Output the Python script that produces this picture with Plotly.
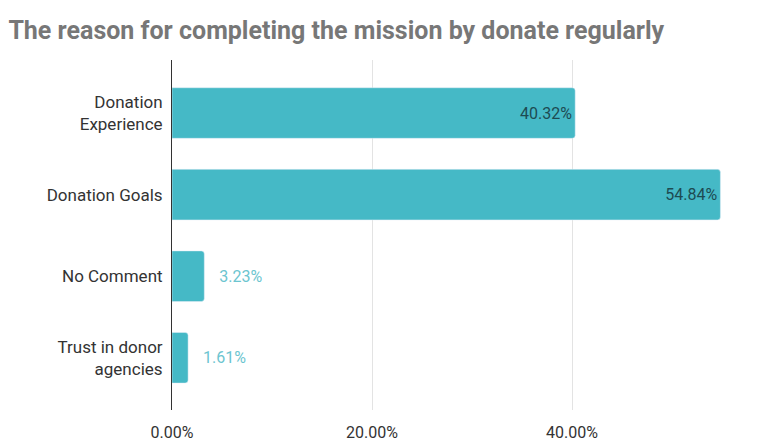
import plotly.graph_objects as go

categories = ["Donation<br>Experience", "Donation Goals", "No Comment", "Trust in donor<br>agencies"]
values = [40.32, 54.84, 3.23, 1.61]
tick_values = [0, 20, 40]
tick_labels = ["0.00%", "20.00%", "40.00%"]

FONT = "Roboto, Liberation Sans, Arial, sans-serif"
bar_color = "#45b9c6"

# Long bars carry their label inside at the end; short bars get it outside.
text_positions = ["inside" if v > 10 else "outside" for v in values]
text_colors = ["#1d4b52" if v > 10 else "#6cc5d0" for v in values]
texts = [f"{v:.2f}%" if v > 10 else f"   {v:.2f}%" for v in values]

fig = go.Figure(
    go.Bar(
        x=values,
        y=categories,
        orientation="h",
        marker=dict(color=bar_color, cornerradius=3),
        text=texts,
        textposition=text_positions,
        insidetextanchor="end",
        textfont=dict(color=text_colors, size=16, family=FONT),
        cliponaxis=False,
        width=0.62,
    )
)

fig.update_layout(
    width=762,
    height=443,
    margin=dict(l=172, r=10, t=60, b=33),
    paper_bgcolor="white",
    plot_bgcolor="white",
    showlegend=False,
    title=dict(
        text="<b>The reason for completing the mission by donate regularly</b>",
        x=0.011,
        xanchor="left",
        y=0.932,
        yanchor="middle",
        font=dict(size=25, color="#777777", family=FONT),
    ),
    font=dict(family=FONT, size=16, color="#333333"),
)

fig.update_xaxes(
    range=[0, 58],
    tickvals=tick_values,
    ticktext=tick_labels,
    showgrid=True,
    gridcolor="#e3e3e3",
    gridwidth=1,
    zeroline=False,
    showline=False,
    ticks="outside",
    ticklen=8,
    tickcolor="rgba(0,0,0,0)",
    tickfont=dict(size=16, color="#333333"),
    automargin=False,
)

fig.update_yaxes(
    categoryorder="array",
    categoryarray=categories,
    range=[3.64, -0.65],
    showline=True,
    linecolor="#333333",
    linewidth=1,
    showgrid=False,
    ticks="outside",
    ticklen=5,
    tickcolor="rgba(0,0,0,0)",
    tickfont=dict(size=17, color="#333333"),
    automargin=False,
)

fig.write_html("out.html")
